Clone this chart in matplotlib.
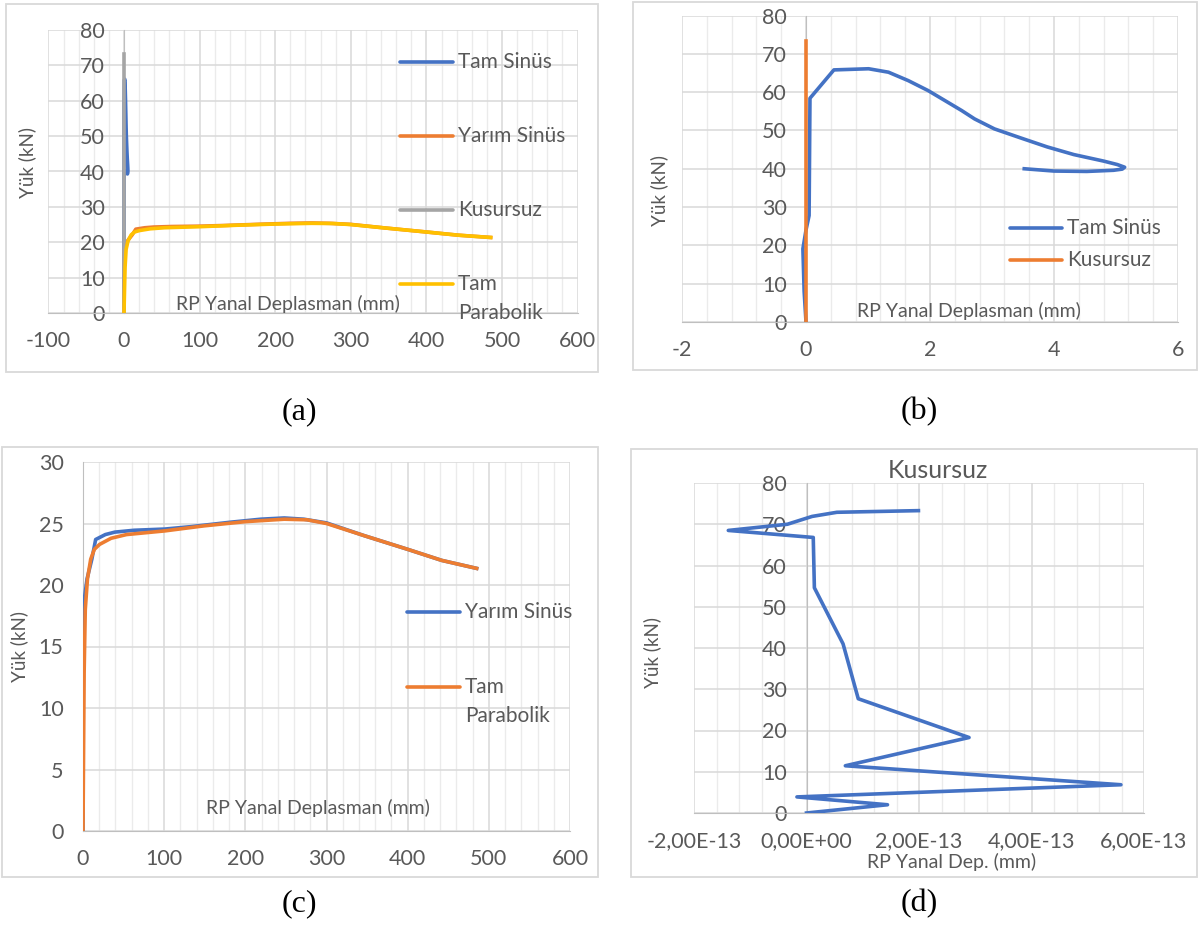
import numpy as np
import matplotlib
matplotlib.use("Agg")
import matplotlib.pyplot as plt
from matplotlib.lines import Line2D
from matplotlib.patches import Rectangle
from matplotlib.ticker import FixedLocator

# ---- data ----
# Tam Sinüs: load-displacement (mm, kN)
tam_sinus_x = [0.0, -0.03, -0.05, 0.0, 0.05, 0.064, 0.45, 1.01, 1.33, 1.65, 1.97, 2.24,
               2.51, 2.72, 3.04, 3.47, 3.89, 4.32, 4.80, 5.02, 5.14, 5.10, 4.96, 4.53,
               4.00, 3.52]
tam_sinus_y = [0.0, 8.0, 19.1, 24.0, 27.8, 58.4, 65.8, 66.1, 65.2, 63.0, 60.4, 57.8,
               55.2, 53.0, 50.4, 48.0, 45.7, 43.7, 42.0, 41.1, 40.4, 39.9, 39.6, 39.3,
               39.4, 40.0]

# Yarım Sinüs
yarim_x = [0, 0.5, 5, 10.9, 15.6, 27.5, 39.3, 63, 101, 134, 181, 219, 248, 272, 300,
           347, 400, 442, 485]
yarim_y = [0, 18.3, 20.5, 22.1, 23.7, 24.1, 24.3, 24.45, 24.55, 24.75, 25.1, 25.35, 25.45,
           25.35, 25.05, 24.0, 22.9, 22.0, 21.35]

# Tam Parabolik
parab_x = [0, 1.4, 2.8, 5.5, 9.5, 14, 20.4, 34.6, 53.6, 101, 148, 200, 248, 276, 300,
           347, 400, 442, 485]
parab_y = [0, 12.9, 18.0, 20.5, 22.1, 22.9, 23.3, 23.8, 24.1, 24.4, 24.8, 25.15, 25.35,
           25.3, 25.0, 24.0, 22.9, 22.0, 21.35]

# Kusursuz (x in mm, order 1e-13)
kusur_x = np.array([0, 1.44, -0.17, 5.59, 0.69, 2.89, 0.92, 0.65, 0.14, 0.12, -1.39,
                    -0.34, 0.10, 0.54, 1.99]) * 1e-13
kusur_y = [0, 2.0, 3.9, 6.85, 11.45, 18.3, 27.7, 41.0, 54.6, 66.8, 68.5, 70.0, 71.9,
           72.9, 73.3]

blue, orange, gray, gold = "#4472C4", "#ED7D31", "#A5A5A5", "#FFC000"
txt = "#595959"
LW = 2.6

plt.rcParams['font.family'] = ['Lato', 'DejaVu Sans']
plt.rcParams['axes.unicode_minus'] = False

W, H = 1201, 941
fig = plt.figure(figsize=(W / 100, H / 100), dpi=100)


def rect(l, t, r, b):
    return [l / W, 1 - b / H, (r - l) / W, (b - t) / H]


def ftext(x, y, s, **kw):
    fig.text(x / W, 1 - y / H, s, **kw)


def frame(l, t, r, b):
    fig.add_artist(Rectangle((l / W, 1 - b / H), (r - l) / W, (b - t) / H,
                             transform=fig.transFigure, fill=False,
                             edgecolor="#D9D9D9", lw=1.3))


def legend(x1, x2, xt, entries):
    for y, col, label in entries:
        if col is not None:
            fig.add_artist(Line2D([x1 / W, x2 / W], [1 - y / H, 1 - y / H],
                                  transform=fig.transFigure, color=col, lw=LW,
                                  solid_capstyle='round'))
        ftext(xt, y, label, fontsize=15, color=txt, va='center', ha='left')


def style(ax, xlim, ylim, xmaj, xmin, ymaj):
    ax.set_xlim(*xlim)
    ax.set_ylim(*ylim)
    ax.xaxis.set_major_locator(FixedLocator(xmaj))
    ax.xaxis.set_minor_locator(FixedLocator(xmin))
    ax.yaxis.set_major_locator(FixedLocator(ymaj))
    ax.grid(which='major', color="#D9D9D9", lw=1.1)
    ax.grid(which='minor', axis='x', color="#EBEBEB", lw=1.0)
    ax.set_axisbelow(True)
    for s in ['top', 'right']:
        ax.spines[s].set_visible(False)
    ax.spines['left'].set_position(('data', 0))
    ax.spines['left'].set_color("#BFBFBF")
    ax.spines['bottom'].set_color("#BFBFBF")
    ax.tick_params(which='both', length=0, colors=txt, labelsize=15.5)
    ax.tick_params(axis='x', pad=13)
    ax.tick_params(axis='y', pad=14)
    ax.set_facecolor('none')


# ---------------- (a) ----------------
frame(6, 4, 598, 372)
ax = fig.add_axes(rect(48.4, 30, 577.6, 313))
style(ax, (-100, 600), (0, 80), np.arange(-100, 601, 100), np.arange(-100, 601, 20),
      np.arange(0, 81, 10))
ax.plot(tam_sinus_x, tam_sinus_y, color=blue, lw=LW, zorder=3)
ax.plot(yarim_x, yarim_y, color=orange, lw=LW, zorder=3)
ax.plot(kusur_x, kusur_y, color=gray, lw=LW, zorder=3)
ax.plot(parab_x, parab_y, color=gold, lw=LW, zorder=3)
ftext(288, 304, "RP Yanal Deplasman (mm)", fontsize=14, color=txt, ha='center', va='center')
ftext(27, 162, "Yük (kN)", fontsize=13.5, color=txt, ha='center', va='center', rotation=90)
legend(400, 453, 458, [(62, blue, "Tam Sinüs"), (136, orange, "Yarım Sinüs"),
                       (210, gray, "Kusursuz"), (284, gold, "Tam"), (313, None, "Parabolik")])

# ---------------- (b) ----------------
frame(633, 2, 1197, 370)
ax = fig.add_axes(rect(682, 15.5, 1178, 322))
style(ax, (-2, 6), (0, 80), np.arange(-2, 7, 2), np.arange(-2, 6.01, 0.4),
      np.arange(0, 81, 10))
ax.plot(tam_sinus_x, tam_sinus_y, color=blue, lw=LW, zorder=3)
ax.plot(kusur_x, kusur_y, color=orange, lw=LW, zorder=3)
ftext(969, 311, "RP Yanal Deplasman (mm)", fontsize=14, color=txt, ha='center', va='center')
ftext(659, 190, "Yük (kN)", fontsize=13.5, color=txt, ha='center', va='center', rotation=90)
legend(1010, 1062, 1067, [(228, blue, "Tam Sinüs"), (260, orange, "Kusursuz")])

# ---------------- (c) ----------------
frame(2, 447, 598, 877)
ax = fig.add_axes(rect(83, 462, 570, 831))
style(ax, (0, 600), (0, 30), np.arange(0, 601, 100), np.arange(0, 601, 20),
      np.arange(0, 31, 5))
ax.plot(yarim_x, yarim_y, color=blue, lw=LW, zorder=3)
ax.plot(parab_x, parab_y, color=orange, lw=LW, zorder=3)
ftext(318, 808, "RP Yanal Deplasman (mm)", fontsize=14, color=txt, ha='center', va='center')
ftext(19, 647, "Yük (kN)", fontsize=13.5, color=txt, ha='center', va='center', rotation=90)
legend(407, 460, 465, [(612, blue, "Yarım Sinüs"), (687, orange, "Tam"),
                       (716, None, "Parabolik")])

# ---------------- (d) ----------------
frame(631, 449, 1197, 877)
ax = fig.add_axes(rect(694, 483, 1144, 813))
xm = np.array([-2, 0, 2, 4, 6]) * 1e-13
style(ax, (-2e-13, 6e-13), (0, 80), xm, np.arange(-2, 6.01, 0.4) * 1e-13,
      np.arange(0, 81, 10))
ax.set_xticklabels([f"{v:.2E}".replace('.', ',') for v in xm])
ax.plot(kusur_x, kusur_y, color=blue, lw=LW, zorder=3)
ftext(938, 471, "Kusursuz", fontsize=18, color=txt, ha='center', va='center')
ftext(952, 862, "RP Yanal Dep. (mm)", fontsize=14, color=txt, ha='center', va='center')
ftext(652, 652, "Yük (kN)", fontsize=13.5, color=txt, ha='center', va='center', rotation=90)

# captions
for x, y, s in [(299, 412, "(a)"), (919, 412, "(b)"), (299, 904, "(c)"), (919, 904, "(d)")]:
    ftext(x, y, s, fontsize=23, color='black', ha='center', va='center',
          family='Liberation Serif')

fig.savefig("out.png", dpi=100)
